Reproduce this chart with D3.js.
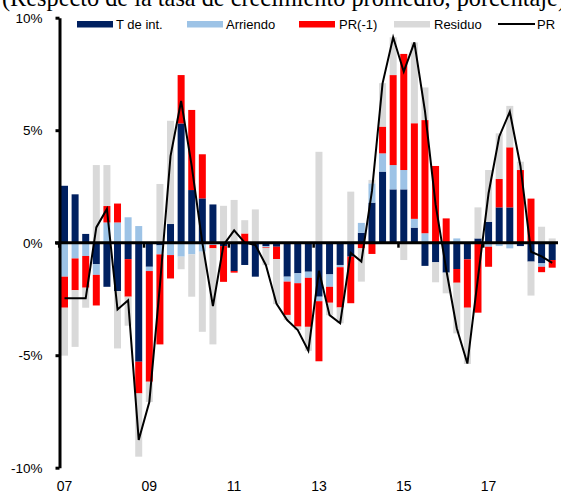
<!DOCTYPE html>
<html>
<head>
<meta charset="utf-8">
<script src="https://cdn.jsdelivr.net/npm/d3@7"></script>
<style>
  html, body { margin: 0; padding: 0; background: #fff; }
  svg { display: block; }
  text { font-family: "Liberation Sans", Arial, sans-serif; }
</style>
</head>
<body>
<svg id="chart" width="561" height="494"></svg>
<script>
// ---- data (quarterly, 2007Q1 .. 2018Q3) ----
const years = [2007, 2008, 2009, 2010, 2011, 2012, 2013, 2014, 2015, 2016, 2017, 2018];
const quarters = [];
years.forEach(y => [1, 2, 3, 4].forEach(q => quarters.push(y + "Q" + q)));
quarters.length = 47;

const tInt = [2.53, 2.15, 0.39, -0.96, -1.96, -2.15, -0.73, -5.29, -1.07, -0.12, 0.83, 5.30,
  2.34, 1.97, 1.70, -0.15, -1.26, -0.99, -1.51, -0.15, -0.18, -1.51, -1.36, -1.29,
  -2.40, -1.41, -0.99, -0.62, 0.44, 1.78, 3.16, 2.37, 2.37, 0.67, -1.03, -0.87,
  -1.33, -1.17, -0.74, 0.19, 0.93, 1.57, 1.57, -0.15, -0.84, -0.92, -0.77];
const arriendo = [-1.51, -0.70, -0.59, -0.47, 0.90, 0.90, 1.13, 0.74, -0.19, -0.40, -0.55, -0.62,
  -0.52, -0.40, -0.10, 0, 0, 0, 0, -0.05, 0, -0.22, -0.44, -0.27,
  -0.20, -0.55, -0.10, 0, 0.44, 0.86, 0.81, 1.08, 0.86, 0.39, 0.42, 0,
  0, 0.19, 0, 0, -0.18, -0.15, -0.25, 0, 0, -0.15, 0];
const prLag = [-1.38, -1.41, -1.41, -1.36, 0.73, 0.84, -1.67, -1.41, -4.92, -4.00, -1.04, 2.15,
  3.56, 1.96, -0.15, -1.59, -0.07, 0.41, 0, -0.03, -0.55, -1.48, -1.93, -2.18,
  -2.67, -0.71, -1.79, -2.07, -0.25, -0.50, 1.19, 4.00, 5.16, 4.25, 5.03, 3.41,
  1.08, -0.61, -2.15, -3.11, -0.89, 1.26, 2.67, 3.23, 1.96, -0.24, -0.34];
const residuo = [-2.13, -2.52, -0.89, 3.45, 1.82, -2.55, -1.29, -2.81, -0.90, 2.61, 4.59, -0.56,
  -1.88, -3.56, -4.27, 1.64, 1.90, 0.59, 1.48, -0.77, -2.00, -0.23, -0.15, -1.07,
  4.04, -0.55, -0.70, 2.27, -1.48, 0.15, 1.93, 1.68, -0.77, 3.59, 1.45, -0.89,
  -0.92, -2.25, -2.50, 1.38, 2.30, 2.03, 1.84, 0.37, -1.51, 0.71, 0.19];
const pr = [-2.47, -2.47, -2.47, 0.68, 1.50, -2.97, -2.56, -8.77, -7.08, -1.90, 3.85, 6.30,
  3.40, 0.00, -2.82, -0.10, 0.55, 0.00, -0.10, -1.00, -2.72, -3.44, -3.88, -4.80,
  -1.25, -3.22, -3.58, -0.45, -0.84, 2.30, 7.08, 9.13, 7.60, 8.90, 5.85, 1.70,
  -1.18, -3.80, -5.37, -1.55, 2.20, 4.71, 5.82, 3.42, -0.40, -0.61, -0.90];

const yTicks = [-10, -5, 0, 5, 10];
const xLabelQuarters = ["2007Q1", "2009Q1", "2011Q1", "2013Q1", "2015Q1", "2017Q1"];
const xLabels = ["07", "09", "11", "13", "15", "17"];

const seriesKeys = ["T de int.", "Arriendo", "PR(-1)", "Residuo"];
const seriesColors = ["#002060", "#9DC3E6", "#FF0000", "#D9D9D9"];
const titleText = "(Respecto de la tasa de crecimiento promedio, porcentaje)";

// ---- chart ----
const svg = d3.select("#chart");

const x = d3.scaleBand().domain(quarters).range([59.2, 557.5])
  .paddingInner(0.34).paddingOuter(0.17);
const y = d3.scaleLinear().domain([-10, 10]).range([467.7, 17.7]);

const rows = quarters.map((q, i) => ({
  q, "T de int.": tInt[i], "Arriendo": arriendo[i], "PR(-1)": prLag[i], "Residuo": residuo[i]
}));
const stack = d3.stack().keys(seriesKeys).offset(d3.stackOffsetDiverging);
const stacked = stack(rows);
const color = d3.scaleOrdinal().domain(seriesKeys).range(seriesColors);

// title (cut off at top, as in the reference)
svg.append("text").attr("x", 2).attr("y", 5.5)
  .style("font-family", "'Liberation Serif', 'Times New Roman', serif")
  .attr("font-size", 24.3).attr("fill", "#000").text(titleText);

// bars
svg.append("g").selectAll("g").data(stacked).join("g")
  .attr("fill", d => color(d.key))
  .selectAll("rect").data(d => d).join("rect")
  .attr("x", d => x(d.data.q))
  .attr("width", x.bandwidth())
  .attr("y", d => y(Math.max(d[0], d[1])))
  .attr("height", d => Math.abs(y(d[0]) - y(d[1])));

// zero axis line
svg.append("line")
  .attr("x1", 55).attr("x2", 558).attr("y1", y(0)).attr("y2", y(0))
  .attr("stroke", "#000").attr("stroke-width", 3);

// x ticks at left edge of each labelled quarter
svg.append("g").selectAll("line").data(xLabelQuarters).join("line")
  .attr("x1", d => x(d) - x.step() * x.paddingInner() / 2)
  .attr("x2", d => x(d) - x.step() * x.paddingInner() / 2)
  .attr("y1", y(0)).attr("y2", y(0) + 5)
  .attr("stroke", "#000").attr("stroke-width", 2.5);

// x labels
svg.append("g").selectAll("text").data(xLabelQuarters).join("text")
  .attr("x", d => x(d) + x.bandwidth() / 2)
  .attr("y", 491)
  .attr("text-anchor", "middle")
  .attr("font-size", 14)
  .text((d, i) => xLabels[i]);

// y axis
const yAxis = d3.axisLeft(y).tickValues(yTicks).tickSize(4).tickSizeOuter(0)
  .tickPadding(13).tickFormat(d => d + "%");
const gy = svg.append("g").attr("transform", "translate(59.5,0)").call(yAxis);
gy.select(".domain").attr("stroke", "#000").attr("stroke-width", 3);
gy.selectAll(".tick line").attr("stroke", "#000").attr("stroke-width", 3);
gy.selectAll(".tick text").attr("font-size", 13.5).attr("fill", "#000")
  .attr("font-family", "'Liberation Sans', Arial, sans-serif");

// PR line
const line = d3.line()
  .x((d, i) => x(quarters[i]) + x.bandwidth() / 2)
  .y(d => y(d));
svg.append("path").datum(pr)
  .attr("d", line).attr("fill", "none")
  .attr("stroke", "#000").attr("stroke-width", 2).attr("stroke-linejoin", "miter");

// legend
const legendItems = [
  { key: "T de int.", sx: 77, tx: 116, type: "rect" },
  { key: "Arriendo", sx: 187, tx: 226, type: "rect" },
  { key: "PR(-1)", sx: 299, tx: 339, type: "rect" },
  { key: "Residuo", sx: 394, tx: 434, type: "rect" },
  { key: "PR", sx: 498, tx: 537, type: "line" }
];
const lg = svg.append("g");
legendItems.forEach(it => {
  if (it.type === "rect") {
    lg.append("rect").attr("x", it.sx).attr("y", 21).attr("width", 36).attr("height", 6.5)
      .attr("fill", color(it.key));
  } else {
    lg.append("line").attr("x1", it.sx).attr("x2", it.sx + 37).attr("y1", 24).attr("y2", 24)
      .attr("stroke", "#000").attr("stroke-width", 2);
  }
  lg.append("text").attr("x", it.tx).attr("y", 29).attr("font-size", 13)
    .attr("fill", "#000").text(it.key);
});
</script>
</body>
</html>
